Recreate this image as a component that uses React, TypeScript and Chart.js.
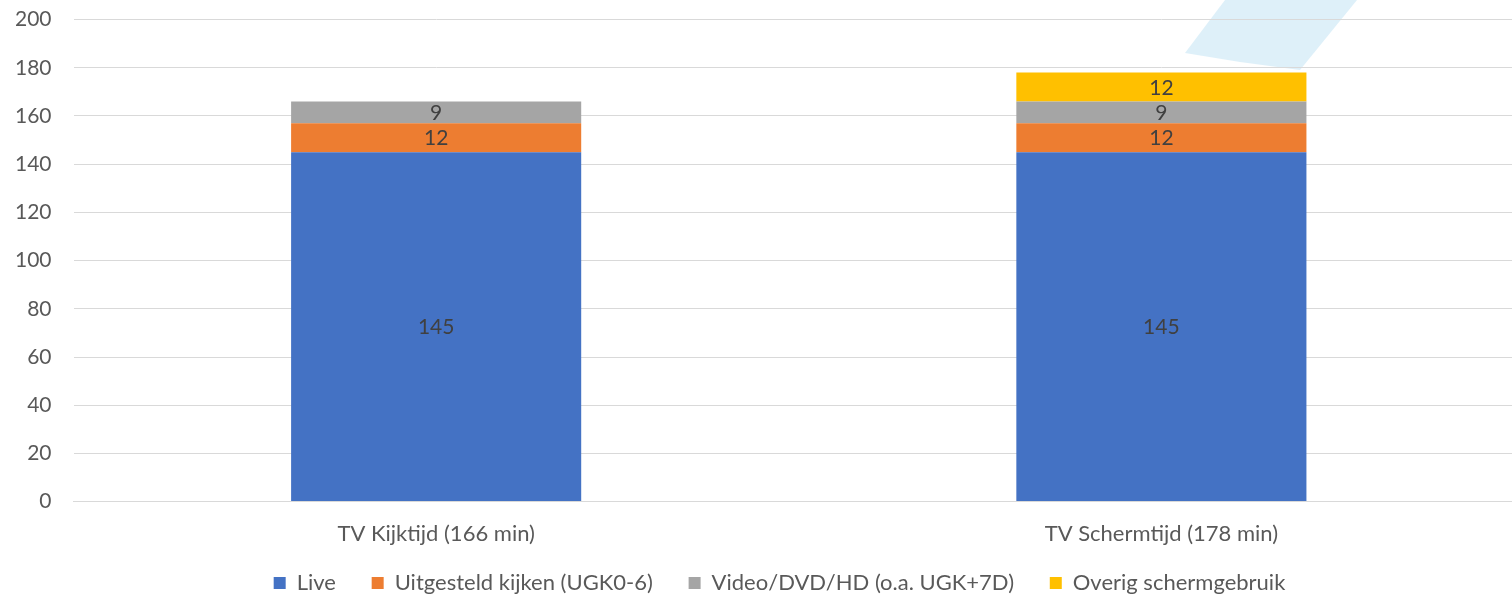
import React, { useEffect, useRef } from "react";
import { Chart, registerables } from "chart.js";

Chart.register(...registerables);

const categories = ["TV Kijktijd (166 min)", "TV Schermtijd (178 min)"];
const liveValues = [145, 145];
const uitgesteldValues = [12, 12];
const videoValues = [9, 9];
const overigValues = [null, 12];
const seriesLabels = ["Live", "Uitgesteld kijken (UGK0-6)", "Video/DVD/HD (o.a. UGK+7D)", "Overig schermgebruik"];
const seriesColors = ["#4472C4", "#ED7D31", "#A5A5A5", "#FFC000"];

const FONT = "Lato, 'Open Sans', sans-serif";
const FS = 21;
const FS_BIG = 22;
const TOP_SHIFT = 15;

const watermarkPlugin = {
  id: "watermark",
  beforeDraw(chart: any) {
    const ctx = chart.ctx;
    const o = TOP_SHIFT;
    ctx.save();
    ctx.fillStyle = "rgba(200, 230, 245, 0.6)";
    ctx.beginPath();
    ctx.moveTo(1225, o);
    ctx.lineTo(1357, o);
    ctx.lineTo(1300, 70 + o);
    ctx.lineTo(1240, 62 + o);
    ctx.lineTo(1185, 53 + o);
    ctx.closePath();
    ctx.fill();
    ctx.restore();
  },
};

const legendShiftPlugin = {
  id: "legendShift",
  afterLayout(chart: any) {
    if (chart.legend) {
      chart.legend.left += 21;
      chart.legend.right += 21;
    }
  },
};

const valueLabelPlugin = {
  id: "valueLabels",
  afterDatasetsDraw(chart: any) {
    const ctx = chart.ctx;
    ctx.save();
    ctx.fillStyle = "#404040";
    ctx.font = `${FS}px ${FONT}`;
    ctx.textAlign = "center";
    ctx.textBaseline = "middle";
    chart.data.datasets.forEach((ds: any, i: number) => {
      const meta = chart.getDatasetMeta(i);
      meta.data.forEach((bar: any, j: number) => {
        const v = ds.data[j];
        if (v === null || v === undefined) return;
        const y = (bar.y + bar.base) / 2;
        ctx.fillText(String(v), bar.x, y + 1);
      });
    });
    ctx.restore();
  },
};

export default function App() {
  const ref = useRef<HTMLCanvasElement | null>(null);
  useEffect(() => {
    if (!ref.current) return;
    const values = [liveValues, uitgesteldValues, videoValues, overigValues];
    const chart = new Chart(ref.current, {
      type: "bar",
      data: {
        labels: categories,
        datasets: values.map((d, i) => ({
          label: seriesLabels[i],
          data: d as any,
          backgroundColor: seriesColors[i],
          borderWidth: 0,
          categoryPercentage: 1,
          barPercentage: 0.4,
        })),
      },
      options: {
        animation: false,
        responsive: true,
        maintainAspectRatio: false,
        layout: { padding: { top: 4, bottom: 0, left: -7, right: 0 } },
        plugins: {
          legend: {
            position: "bottom",
            labels: {
              boxWidth: 12,
              boxHeight: 12,
              padding: 0,
              color: "#595959",
              font: { family: FONT, size: FS_BIG, lineHeight: 1.0 },
              generateLabels(chart: any) {
                const items = Chart.defaults.plugins.legend.labels.generateLabels(chart);
                return items.map((it: any, i: number) => ({
                  ...it,
                  text: i < items.length - 1 ? it.text + "\u2003\u2003\u2009" : it.text,
                  lineWidth: 0,
                }));
              },
            },
          },
          tooltip: { enabled: false },
        },
        scales: {
          x: {
            stacked: true,
            grid: { display: false, drawTicks: false },
            border: { display: true, color: "#d9d9d9", width: 1 },
            ticks: { color: "#595959", font: { family: FONT, size: FS_BIG }, padding: 19 },
            afterFit(scale: any) {
              scale.height += 6;
            },
          },
          y: {
            stacked: true,
            min: 0,
            max: 200,
            ticks: { stepSize: 20, color: "#595959", font: { family: FONT, size: FS }, padding: 22 },
            grid: { color: "#d9d9d9", drawTicks: false, lineWidth: 1 },
            border: { display: false },
          },
        },
      },
      plugins: [watermarkPlugin, legendShiftPlugin, valueLabelPlugin],
    });
    return () => chart.destroy();
  }, []);
  return (
    <div
      style={{
        position: "fixed",
        left: 0,
        top: -TOP_SHIFT,
        width: 1524,
        height: 619,
        background: "#fff",
      }}
    >
      <canvas ref={ref} />
    </div>
  );
}
